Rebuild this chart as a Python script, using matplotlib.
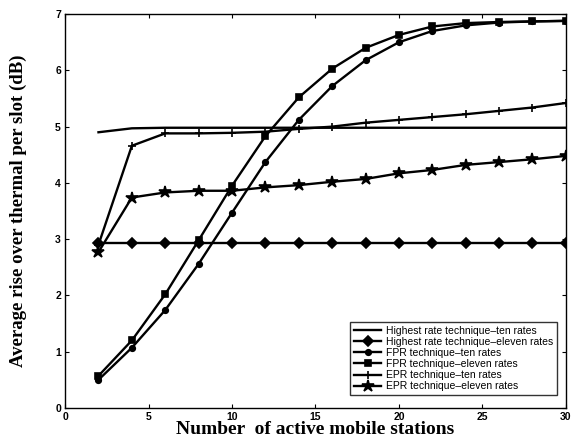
import matplotlib
import matplotlib.pyplot as plt

matplotlib.use("Agg")

# --- Data ---
stations = [2, 4, 6, 8, 10, 12, 14, 16, 18, 20, 22, 24, 26, 28, 30]

highest_ten = [4.90, 4.97, 4.98, 4.98, 4.98, 4.98, 4.98, 4.98, 4.98, 4.98, 4.98, 4.98, 4.98, 4.98, 4.98]
highest_eleven = [2.94] * 15
fpr_ten = [0.50, 1.07, 1.74, 2.56, 3.47, 4.37, 5.12, 5.72, 6.18, 6.50, 6.70, 6.80, 6.85, 6.87, 6.88]
fpr_eleven = [0.57, 1.20, 2.02, 2.98, 3.95, 4.83, 5.52, 6.03, 6.40, 6.63, 6.78, 6.84, 6.86, 6.87, 6.88]
epr_ten = [2.90, 4.66, 4.88, 4.88, 4.89, 4.91, 4.96, 5.00, 5.07, 5.12, 5.17, 5.22, 5.28, 5.34, 5.42]
epr_eleven = [2.77, 3.74, 3.83, 3.86, 3.86, 3.92, 3.96, 4.02, 4.07, 4.17, 4.23, 4.32, 4.37, 4.42, 4.48]

series = [
    ("Highest rate technique\u2013ten rates", highest_ten, None, 0),
    ("Highest rate technique\u2013eleven rates", highest_eleven, "D", 5),
    ("FPR technique\u2013ten rates", fpr_ten, "o", 4),
    ("FPR technique\u2013eleven rates", fpr_eleven, "s", 5),
    ("EPR technique\u2013ten rates", epr_ten, "+", 6),
    ("EPR technique\u2013eleven rates", epr_eleven, "*", 9),
]

fig = plt.figure(figsize=(5.71, 4.41), dpi=100)
ax = fig.add_axes([0.114, 0.075, 0.877, 0.893])

for label, values, marker, size in series:
    ax.plot(
        stations,
        values,
        color="black",
        linewidth=1.7,
        marker=marker,
        markersize=size,
        markeredgewidth=1.2,
        label=label,
    )

ax.set_xlim(0, 30)
ax.set_ylim(0, 7)
ax.set_xticks([0, 5, 10, 15, 20, 25, 30])
ax.set_yticks(range(0, 8))
ax.tick_params(direction="in", top=True, right=True, length=3, width=0.8, labelsize=7.5, pad=3)
for lbl in ax.get_xticklabels() + ax.get_yticklabels():
    lbl.set_fontweight("bold")
    lbl.set_family("Liberation Sans")
for spine in ax.spines.values():
    spine.set_linewidth(1.0)

ax.set_xlabel(
    "Number  of active mobile stations",
    family="Liberation Serif",
    fontsize=14,
    fontweight="bold",
    labelpad=-1,
)
ax.set_ylabel(
    "Average rise over thermal per slot (dB)",
    family="Liberation Serif",
    fontsize=13.5,
    fontweight="bold",
    labelpad=20,
)

leg = ax.legend(
    loc="lower right",
    bbox_to_anchor=(0.993, 0.02),
    prop={"family": "Liberation Sans", "size": 7.5},
    frameon=True,
    fancybox=False,
    edgecolor="black",
    borderpad=0.35,
    labelspacing=0.1,
    handlelength=2.6,
    handletextpad=0.5,
)
leg.get_frame().set_linewidth(1.0)

fig.savefig("out.png", dpi=100)
plt.close()
